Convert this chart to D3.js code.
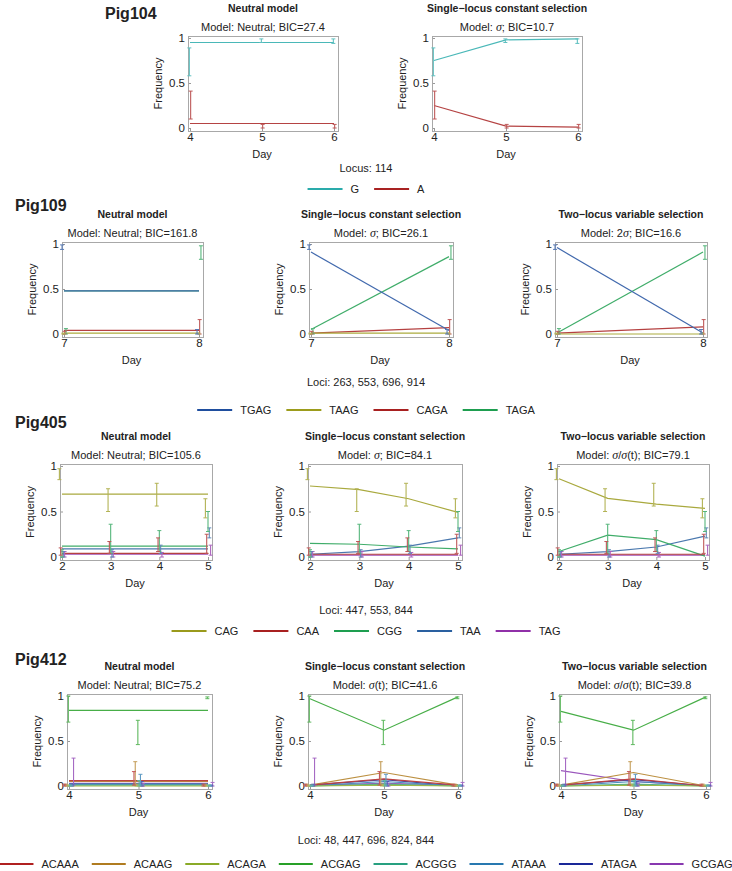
<!DOCTYPE html>
<html><head><meta charset="utf-8">
<script src="https://cdn.jsdelivr.net/npm/d3@7"></script>
<style>body{margin:0;background:#fff} text{font-family:"Liberation Sans",Arial,sans-serif;fill:#222}</style>
</head><body><svg id="c" width="732" height="871"></svg>
<script>
// ---------- Pig104 ----------
const pig104Days = [4, 5, 6];
const pig104Haps = ["G", "A"];
const pig104Colors = ["#2aabab", "#a82222"];
const pig104Lo = [[0.58, 0.95, 0.94], [0.10, 0.00, 0.00]];
const pig104Hi = [[0.89, 0.99, 0.99], [0.41, 0.04, 0.04]];
const pig104Neutral = [[0.95, 0.95, 0.95], [0.05, 0.05, 0.05]];
const pig104Single = [[0.75, 0.98, 0.99], [0.25, 0.02, 0.01]];
const pig104Subs = ["Model: Neutral; BIC=27.4", "Model: σ; BIC=10.7"];
const pig104Loci = "Locus: 114";

// ---------- Pig109 ----------
const pig109Days = [7, 8];
const pig109Haps = ["TGAG", "TAAG", "CAGA", "TAGA"];
const pig109Colors = ["#1f4e9e", "#9c9c1c", "#a82020", "#1e9e50"];
const pig109Lo = [[0.94, 0.00], [0.00, 0.00], [0.00, 0.00], [0.00, 0.83]];
const pig109Hi = [[0.99, 0.05], [0.01, 0.01], [0.03, 0.16], [0.06, 0.98]];
const pig109Neutral = [[0.48, 0.48], [0.01, 0.01], [0.04, 0.04], [0.48, 0.48]];
const pig109Single = [[0.91, 0.04], [0.01, 0.01], [0.01, 0.07], [0.05, 0.86]];
const pig109Two = [[0.96, 0.01], [0.00, 0.00], [0.01, 0.08], [0.01, 0.91]];
const pig109Subs = ["Model: Neutral; BIC=161.8", "Model: σ; BIC=26.1", "Model: 2σ; BIC=16.6"];
const pig109Loci = "Loci: 263, 553, 696, 914";

// ---------- Pig405 ----------
const pig405Days = [2, 3, 4, 5];
const pig405Haps = ["CAG", "CAA", "CGG", "TAA", "TAG"];
const pig405Colors = ["#9a9a1c", "#a82020", "#1e9e50", "#2a60a0", "#9030a8"];
const pig405Lo = [[0.85, 0.50, 0.56, 0.43], [0.02, 0.04, 0.06, 0.04], [0.00, 0.04, 0.06, 0.28], [0.00, 0.00, 0.04, 0.21], [0.00, 0.00, 0.00, 0.02]];
const pig405Hi = [[0.97, 0.75, 0.81, 0.64], [0.10, 0.17, 0.21, 0.25], [0.08, 0.36, 0.29, 0.50], [0.06, 0.08, 0.13, 0.32], [0.06, 0.06, 0.05, 0.13]];
const pig405Neutral = [[0.69, 0.69, 0.69, 0.69], [0.04, 0.04, 0.04, 0.04], [0.12, 0.12, 0.12, 0.12], [0.09, 0.09, 0.09, 0.09], [0.03, 0.03, 0.03, 0.03]];
const pig405Single = [[0.78, 0.74, 0.64, 0.49], [0.03, 0.03, 0.03, 0.03], [0.15, 0.14, 0.11, 0.09], [0.03, 0.06, 0.12, 0.21], [0.02, 0.02, 0.02, 0.02]];
const pig405Two = [[0.86, 0.645, 0.58, 0.535], [0.03, 0.03, 0.03, 0.03], [0.06, 0.24, 0.19, 0.01], [0.03, 0.06, 0.11, 0.23], [0.02, 0.02, 0.02, 0.02]];
const pig405Subs = ["Model: Neutral; BIC=105.6", "Model: σ; BIC=84.1", "Model: σ/σ(t); BIC=79.1"];
const pig405Loci = "Loci: 447, 553, 844";

// ---------- Pig412 ----------
const pig412Days = [4, 5, 6];
const pig412Haps = ["ACAAA", "ACAAG", "ACAGA", "ACGAG", "ACGGG", "ATAAA", "ATAGA", "GCGAG"];
const pig412Colors = ["#b02020", "#b07c20", "#8aaa28", "#28a028", "#28a080", "#2878b0", "#1a2898", "#8838b0"];
const pig412Lo = [[0.00, 0.01, 0.00], [0.00, 0.01, 0.00], [0.00, 0.00, 0.00], [0.71, 0.46, 0.97], [0.00, 0.00, 0.00], [0.00, 0.01, 0.00], [0.00, 0.00, 0.00], [0.01, 0.00, 0.00]];
const pig412Hi = [[0.02, 0.16, 0.02], [0.02, 0.27, 0.02], [0.01, 0.02, 0.01], [1.00, 0.73, 0.99], [0.01, 0.06, 0.01], [0.01, 0.13, 0.01], [0.02, 0.05, 0.01], [0.31, 0.03, 0.04]];
const pig412Neutral = [[0.06, 0.06, 0.06], [0.05, 0.05, 0.05], [0.00, 0.00, 0.00], [0.84, 0.84, 0.84], [0.01, 0.01, 0.01], [0.02, 0.02, 0.02], [0.02, 0.02, 0.02], [0.03, 0.03, 0.03]];
const pig412Single = [[0.01, 0.08, 0.01], [0.01, 0.15, 0.01], [0.00, 0.01, 0.00], [0.97, 0.62, 0.99], [0.00, 0.02, 0.00], [0.00, 0.05, 0.00], [0.01, 0.07, 0.00], [0.01, 0.03, 0.01]];
const pig412Two = [[0.01, 0.08, 0.00], [0.01, 0.15, 0.00], [0.00, 0.01, 0.00], [0.83, 0.62, 0.99], [0.00, 0.02, 0.00], [0.00, 0.05, 0.00], [0.01, 0.07, 0.00], [0.17, 0.05, 0.00]];
const pig412Subs = ["Model: Neutral; BIC=75.2", "Model: σ(t); BIC=41.6", "Model: σ/σ(t); BIC=39.8"];
const pig412Loci = "Loci: 48, 447, 696, 824, 844";

const modelTitles = ["Neutral model", "Single−locus constant selection", "Two−locus variable selection"];
const yTicks = [0, 0.5, 1];

// ---------- layout ----------
const svg = d3.select("#c");
const CX = 366;

const rows = [
  { name: "Pig104", nameX: 105, nameY: 19, top: 36, bottom: 131, frames: [[188, 338], [432, 582]],
    days: pig104Days, haps: pig104Haps, colors: pig104Colors, lo: pig104Lo, hi: pig104Hi,
    fits: [pig104Neutral, pig104Single], subs: pig104Subs, loci: pig104Loci, lociY: 172, legY: 189 },
  { name: "Pig109", nameX: 15, nameY: 211, top: 242, bottom: 337, frames: [[62, 203], [309, 453], [555, 707]],
    days: pig109Days, haps: pig109Haps, colors: pig109Colors, lo: pig109Lo, hi: pig109Hi,
    fits: [pig109Neutral, pig109Single, pig109Two], subs: pig109Subs, loci: pig109Loci, lociY: 386, legY: 410 },
  { name: "Pig405", nameX: 15, nameY: 428, top: 464, bottom: 560, frames: [[60, 212], [308, 462], [557, 709]],
    days: pig405Days, haps: pig405Haps, colors: pig405Colors, lo: pig405Lo, hi: pig405Hi,
    fits: [pig405Neutral, pig405Single, pig405Two], subs: pig405Subs, loci: pig405Loci, lociY: 614, legY: 631 },
  { name: "Pig412", nameX: 15, nameY: 665, top: 694, bottom: 789, frames: [[67, 212], [308, 462], [559, 710]],
    days: pig412Days, haps: pig412Haps, colors: pig412Colors, lo: pig412Lo, hi: pig412Hi,
    fits: [pig412Neutral, pig412Single, pig412Two], subs: pig412Subs, loci: pig412Loci, lociY: 844, legY: 864 }
];

function lighten(c, t) { return d3.interpolateRgb(c, "#ffffff")(t); }

function subtitle(sel, str) {
  const parts = str.split("σ");
  parts.forEach((p, i) => {
    if (i > 0) sel.append("tspan").attr("font-family", "Liberation Serif, serif").attr("font-style", "italic").attr("font-size", 12).text("σ");
    if (p) sel.append("tspan").text(p);
  });
}

function drawPanel(row, pi) {
  const [l, r] = row.frames[pi];
  const top = row.top, bottom = row.bottom;
  const days = row.days;
  const x = d3.scaleLinear().domain([days[0], days[days.length - 1]]).range([l + 2, r - 4]);
  const y = d3.scaleLinear().domain([0, 1]).range([bottom - 3, top + 2]);
  const g = svg.append("g");
  const cx = (l + r) / 2;

  g.append("text").attr("x", cx).attr("y", top - 24).attr("text-anchor", "middle")
    .attr("font-size", 10.5).attr("font-weight", "bold").text(modelTitles[pi]);
  const st = g.append("text").attr("x", cx).attr("y", top - 5).attr("text-anchor", "middle").attr("font-size", 11);
  subtitle(st, row.subs[pi]);

  const ya = g.append("g").attr("transform", `translate(${l},0)`)
    .call(d3.axisLeft(y).tickValues(yTicks).tickFormat(d => d === 0.5 ? "0.5" : String(d)).tickSize(-3).tickSizeOuter(0).tickPadding(3));
  ya.select(".domain").remove();
  ya.selectAll("line").attr("stroke", "#999");
  ya.selectAll("text").attr("font-size", 11.5).attr("font-family", "Liberation Sans, Arial, sans-serif").attr("fill", "#222");

  const xa = g.append("g").attr("transform", `translate(0,${bottom})`)
    .call(d3.axisBottom(x).tickValues(days).tickFormat(d3.format("d")).tickSize(-3).tickSizeOuter(0).tickPadding(2));
  xa.select(".domain").remove();
  xa.selectAll("line").attr("stroke", "#999");
  xa.selectAll("text").attr("font-size", 11.5).attr("font-family", "Liberation Sans, Arial, sans-serif").attr("fill", "#222");

  g.append("rect").attr("x", l + 0.5).attr("y", top + 0.5).attr("width", r - l).attr("height", bottom - top)
    .attr("fill", "none").attr("stroke", "#a8a8a8").attr("stroke-width", 1);

  g.append("text").attr("transform", `translate(${l - 26},${(top + bottom) / 2}) rotate(-90)`)
    .attr("text-anchor", "middle").attr("font-size", 11).text("Frequency");
  g.append("text").attr("x", (x(days[0]) + x(days[days.length - 1])) / 2).attr("y", bottom + 27)
    .attr("text-anchor", "middle").attr("font-size", 11).text("Day");

  const fit = row.fits[pi];
  const n = row.haps.length;
  const line = d3.line().x((d, i) => x(days[i])).y(d => y(d));
  for (let s = n - 1; s >= 0; s--) {
    g.append("path").datum(fit[s]).attr("d", line).attr("fill", "none")
      .attr("stroke", lighten(row.colors[s], 0.15)).attr("stroke-width", 1.2);
  }
  for (let s = n - 1; s >= 0; s--) {
    const off = (s - (n - 1) / 2) * 1.3;
    const c = lighten(row.colors[s], 0.25);
    days.forEach((dd, i) => {
      const xx = x(dd) + off;
      const y1 = y(row.lo[s][i]), y2 = y(row.hi[s][i]);
      g.append("line").attr("x1", xx).attr("x2", xx).attr("y1", y1).attr("y2", y2).attr("stroke", c).attr("stroke-width", 1.1);
      g.append("line").attr("x1", xx - 2).attr("x2", xx + 2).attr("y1", y1).attr("y2", y1).attr("stroke", c).attr("stroke-width", 1);
      g.append("line").attr("x1", xx - 2).attr("x2", xx + 2).attr("y1", y2).attr("y2", y2).attr("stroke", c).attr("stroke-width", 1);
    });
  }
}

function drawLegend(row) {
  svg.append("text").attr("x", CX).attr("y", row.lociY).attr("text-anchor", "middle").attr("font-size", 11).text(row.loci);
  const lg = svg.append("g");
  const many = row.haps.length > 6;
  const lineLen = many ? 34 : 35, gap = 8, after = many ? 13 : 15;
  const fs = 11;
  let cur = 0;
  row.haps.forEach((h, i) => {
    lg.append("line").attr("x1", cur).attr("x2", cur + lineLen).attr("y1", row.legY).attr("y2", row.legY)
      .attr("stroke", row.colors[i]).attr("stroke-width", 2.2);
    const t = lg.append("text").attr("x", cur + lineLen + gap).attr("y", row.legY + 4).attr("font-size", fs).text(h);
    cur += lineLen + gap + t.node().getComputedTextLength() + after;
  });
  const wdt = cur - after;
  lg.attr("transform", `translate(${CX - wdt / 2},0)`);
}

rows.forEach(row => {
  svg.append("text").attr("x", row.nameX).attr("y", row.nameY).attr("font-size", 16).attr("font-weight", "bold").attr("fill", "#000").text(row.name);
  row.frames.forEach((f, pi) => drawPanel(row, pi));
  drawLegend(row);
});
</script></body></html>
